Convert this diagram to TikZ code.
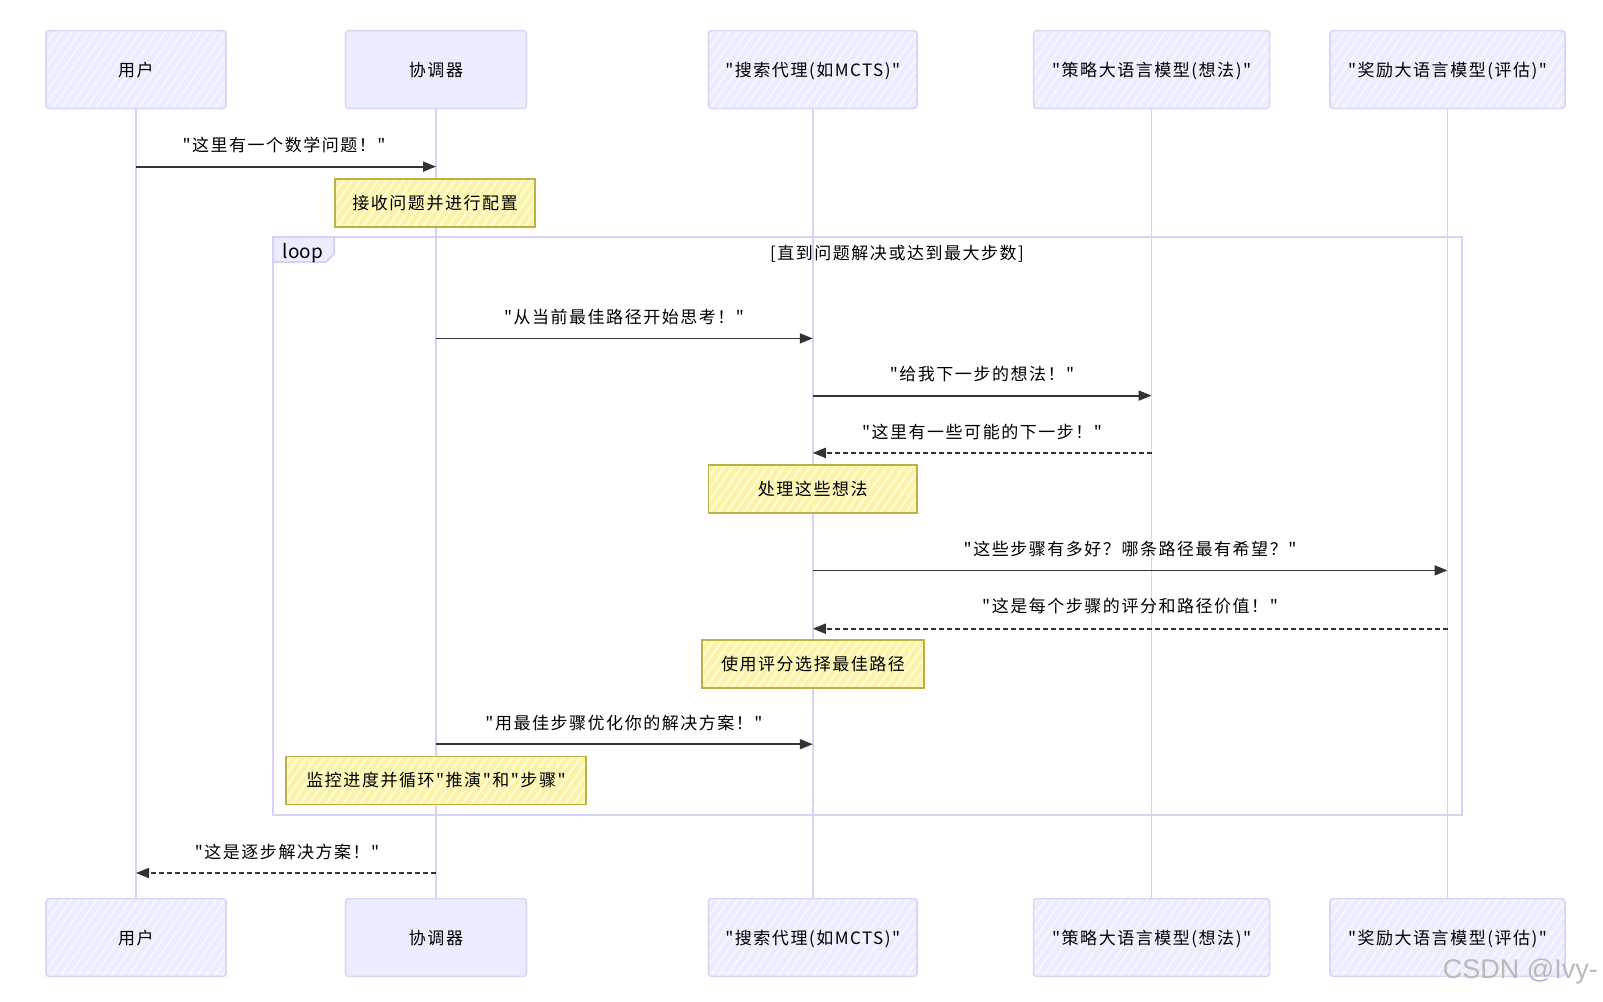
\documentclass[tikz,border=0pt]{standalone}
\usepackage{fontspec}
\setmainfont{Noto Sans CJK SC}[Ligatures=TeXOff,LetterSpace=9]
\newfontfamily\loopfont{Noto Sans CJK SC}[Ligatures=TeXOff]
\newfontfamily\wmfont{Liberation Sans}
\usetikzlibrary{arrows.meta,patterns.meta,calc}
\definecolor{actfill}{HTML}{ECECFF}
\definecolor{actline}{HTML}{DDD5F6}
\definecolor{life}{HTML}{D9D0F3}
\definecolor{notefill}{HTML}{FBF3A6}
\definecolor{notehatch}{HTML}{FFFBDD}
\definecolor{noteline}{HTML}{B9B347}
\definecolor{ink}{HTML}{333333}
\begin{document}
\begin{tikzpicture}[x=1pt,y=-1pt,font=\fontsize{17}{20}\selectfont,
  actor/.style={draw=actline,line width=1.6pt,rounded corners=3pt,
    minimum width=#1,minimum height=77.7pt,inner sep=0pt,text depth=-2pt,
    preaction={fill=actfill},
    pattern={Lines[angle=55,distance=7pt,line width=2pt]},pattern color=white!55!actfill},
  plainactor/.style={draw=actline,line width=1.6pt,rounded corners=3pt,
    minimum width=#1,minimum height=77.7pt,inner sep=0pt,text depth=-2pt,fill=actfill},
  notebox/.style={draw=noteline,line width=1.2pt,minimum width=#1,minimum height=48pt,
    inner sep=0pt,preaction={fill=notefill},
    pattern={Lines[angle=55,distance=7pt,line width=2pt]},pattern color=notehatch},
  lifeline/.style={draw=life,line width=1.6pt},
  msg/.style={draw=ink,line width=1.8pt,-{Triangle[length=13pt,width=10pt]}},
  reply/.style={msg,dash pattern=on 5pt off 3pt},
  lbl/.style={text=black,inner sep=0pt},
  loopframe/.style={draw=life,line width=2pt}
]
\useasboundingbox (0,0) rectangle (1603,1001);
\fill[white] (0,0) rectangle (1603,1001);

% actors top
\node[actor=180pt] (uT) at (136,69.5) {用户};
\node[plainactor=181pt] (cT) at (436,69.5) {协调器};
\node[actor=208.5pt] (sT) at (812.75,69.5) {"搜索代理(如MCTS)"};
\node[actor=236pt] (pT) at (1151.6,69.5) {"策略大语言模型(想法)"};
\node[actor=235pt] (rT) at (1447.5,69.5) {"奖励大语言模型(评估)"};
% actors bottom
\node[actor=180pt] (uB) at (136,937.5) {用户};
\node[plainactor=181pt] (cB) at (436,937.5) {协调器};
\node[actor=208.5pt] (sB) at (812.75,937.5) {"搜索代理(如MCTS)"};
\node[actor=236pt] (pB) at (1151.6,937.5) {"策略大语言模型(想法)"};
\node[actor=235pt] (rB) at (1447.5,937.5) {"奖励大语言模型(评估)"};

% lifelines
\draw[lifeline] (uT.south) -- (uB.north);
\draw[lifeline] (cT.south) -- (cB.north);
\draw[lifeline] (sT.south) -- (sB.north);
\draw[lifeline] (pT.south) -- (pB.north);
\draw[lifeline] (rT.south) -- (rB.north);

% loop frame
\draw[loopframe] (273,237) rectangle (1462,815);
\draw[loopframe,fill=actfill] (273,237) -- (334,237) -- (334,254) -- (326,262) -- (273,262) -- cycle;
\node[lbl,font=\loopfont\fontsize{19}{22}\selectfont] (looplbl) at (303,253) {loop};
\node[lbl] (cond) at (897,253.5) {[直到问题解决或达到最大步数]};

% message 1
\draw[msg] (uT.south |- 0,166.6) -- (cT.south |- 0,166.6);
\node[lbl] (l1) at (284,145) {"这里有一个数学问题！"};
\node[notebox=200pt] (n1) at (435,203) {接收问题并进行配置};

% message 2
\draw[msg] (cT.south |- 0,338.4) -- (sT.south |- 0,338.4);
\node[lbl] (l2) at (624,317) {"从当前最佳路径开始思考！"};
% message 3
\draw[msg] (sT.south |- 0,395.6) -- (pT.south |- 0,395.6);
\node[lbl] (l3) at (982,374) {"给我下一步的想法！"};
% message 4
\draw[reply] (pT.south |- 0,452.9) -- (sT.south |- 0,452.9);
\node[lbl] (l4) at (982,432.4) {"这里有一些可能的下一步！"};
\node[notebox=208.5pt] (n2) at (812.75,489) {处理这些想法};
% message 5
\draw[msg] (sT.south |- 0,570.4) -- (rT.south |- 0,570.4);
\node[lbl] (l5) at (1130,549) {"这些步骤有多好？哪条路径最有希望？"};
% message 6
\draw[reply] (rT.south |- 0,628.7) -- (sT.south |- 0,628.7);
\node[lbl] (l6) at (1130,606) {"这是每个步骤的评分和路径价值！"};
\node[notebox=222pt] (n3) at (813,664) {使用评分选择最佳路径};
% message 7
\draw[msg] (cT.south |- 0,744.2) -- (sT.south |- 0,744.2);
\node[lbl] (l7) at (624,722.7) {"用最佳步骤优化你的解决方案！"};
\node[notebox=300pt] (n4) at (436,780.5) {监控进度并循环"推演"和"步骤"};
% message 8
\draw[reply] (cT.south |- 0,873) -- (uT.south |- 0,873);
\node[lbl] (l8) at (287,851.6) {"这是逐步解决方案！"};

% watermark
\node[text=gray!55,font=\wmfont\fontsize{27}{30}\selectfont,anchor=east,inner sep=0pt] (wm) at (1598,972) {CSDN @Ivy-};
\end{tikzpicture}
\end{document}
